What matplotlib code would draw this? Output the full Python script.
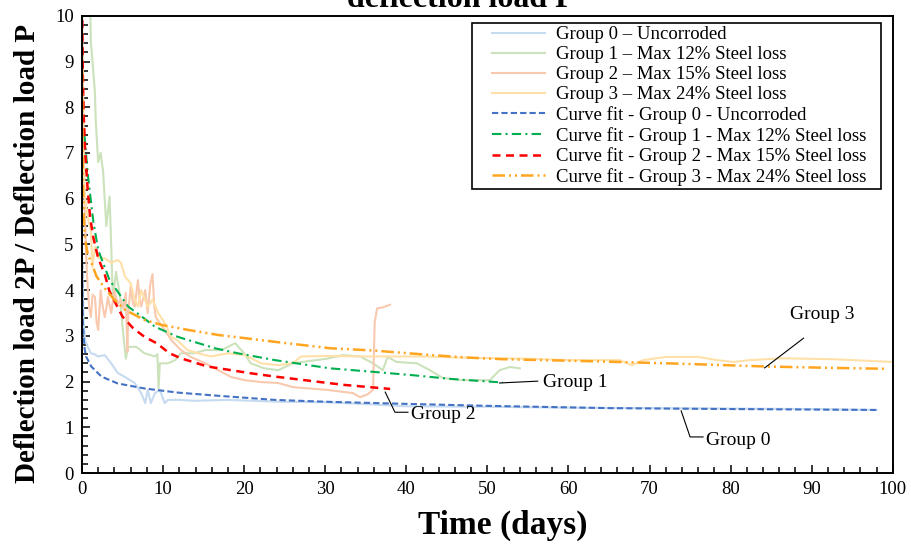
import numpy as np
import matplotlib
matplotlib.use("Agg")
import matplotlib.pyplot as plt
from matplotlib.ticker import MultipleLocator
from matplotlib.patches import Rectangle

plt.rcParams['font.family'] = ['Liberation Serif', 'DejaVu Serif']
plt.rcParams['mathtext.fontset'] = 'stix'

g0_day = [0.0, 0.1, 0.2, 0.4, 0.7, 1.1, 1.5, 2.0, 2.8, 3.6, 4.4, 5.3, 6.5, 7.3, 7.8, 8.1,
          8.5, 9.0, 9.6, 10.2, 10.6, 12.0, 13.9, 18.0, 24.2, 30.0, 36.0, 40.0, 50.0, 60.0,
          70.0, 80.0, 90.0, 98.0]
g0_val = [4.7, 4.0, 3.3, 2.9, 2.76, 2.62, 2.6, 2.55, 2.58, 2.4, 2.19, 2.1, 1.97, 1.75, 1.53, 1.82,
          1.53, 1.75, 1.82, 1.53, 1.6, 1.6, 1.58, 1.6, 1.56, 1.55, 1.5, 1.46, 1.45, 1.43,
          1.42, 1.41, 1.40, 1.38]

g1_day = [0.8, 1.0, 1.1, 1.3, 1.6, 1.7, 2.0, 2.3, 2.6, 3.0, 3.4, 3.6, 3.8, 4.2, 4.7, 5.0,
          5.4, 5.7, 6.7, 7.7, 9.0, 9.3, 9.45, 9.6, 10.6, 11.5, 12.2, 13.9, 15.2, 17.2, 18.9,
          20.0, 20.8, 22.5, 24.2, 26.0, 28.0, 30.2, 32.2, 34.3, 35.9, 37.1, 37.7, 38.8, 41.3,
          42.9, 44.5, 47.0, 50.3, 51.5, 52.8, 54.0]
g1_val = [10.5, 10.3, 9.4, 9.0, 8.3, 7.7, 6.8, 7.0, 6.6, 5.4, 6.05, 5.0, 3.8, 4.4, 3.85, 3.2,
          2.5, 2.76, 2.76, 2.62, 2.55, 2.6, 1.85, 2.4, 2.4, 2.47, 2.62, 2.62, 2.69, 2.69, 2.84,
          2.62, 2.4, 2.29, 2.25, 2.4, 2.45, 2.5, 2.58, 2.55, 2.4, 2.25, 2.54, 2.43, 2.4,
          2.25, 2.08, 2.03, 2.03, 2.25, 2.32, 2.29]

g2_day = [0.0, 0.1, 0.2, 0.3, 0.5, 0.7, 0.9, 1.1, 1.3, 1.6, 1.8, 2.0, 2.3, 2.5, 2.8, 3.0,
          3.2, 3.6, 4.0, 4.4, 4.8, 5.1, 5.4, 5.6, 5.7, 6.0, 6.3, 6.5, 6.9, 7.1, 7.3, 7.8,
          8.1, 8.4, 8.7, 8.9, 9.1, 9.6, 10.2, 11.0, 12.2, 13.4, 15.2, 16.8, 18.4, 20.1,
          22.1, 24.2, 26.0, 28.0, 30.2, 32.0, 33.4, 34.3, 35.2, 35.9, 36.1, 36.4, 37.0, 38.0]
g2_val = [10.2, 9.0, 7.5, 6.0, 4.8, 4.07, 3.6, 3.41, 3.9, 3.85, 3.3, 3.13, 4.0, 3.7, 3.41, 3.6,
          3.85, 3.5, 4.0, 3.7, 3.79, 3.6, 3.94, 2.65, 3.5, 4.07, 3.7, 3.64, 4.22, 3.8, 3.64, 4.0,
          3.5, 4.1, 4.35, 3.7, 3.41, 3.28, 3.13, 2.91, 2.69, 2.54, 2.4, 2.25, 2.1, 2.03,
          1.99, 1.97, 1.88, 1.85, 1.82, 1.78, 1.75, 1.66, 1.72, 1.82, 3.3, 3.6, 3.62, 3.68]

g3_day = [0.0, 0.05, 0.1, 0.2, 0.4, 0.7, 1.1, 1.3, 1.6, 2.0, 2.8, 3.6, 4.4, 4.8, 5.3, 6.0,
          6.5, 6.9, 7.3, 8.1, 8.7, 9.4, 10.2, 11.0, 11.8, 13.0, 14.3, 15.9, 18.0, 20.1, 22.1,
          24.2, 26.0, 27.0, 30.0, 35.0, 42.0, 48.0, 55.0, 60.0, 64.0, 66.3, 67.8, 69.2, 72.0,
          76.0, 78.3, 80.3, 82.4, 86.4, 92.6, 100.0]
g3_val = [8.7, 8.0, 7.2, 6.6, 6.0, 5.6, 5.3, 4.5, 4.95, 4.7, 4.7, 4.6, 4.66, 4.6, 4.3, 4.15,
          3.79, 3.64, 4.0, 3.64, 3.79, 3.5, 3.28, 2.98, 2.9, 2.69, 2.62, 2.55, 2.62, 2.58, 2.4,
          2.36, 2.4, 2.55, 2.56, 2.55, 2.55, 2.52, 2.5, 2.47, 2.47, 2.47, 2.36, 2.47, 2.54,
          2.54, 2.47, 2.43, 2.47, 2.51, 2.49, 2.43]

# ---- curve fits ----
f0_day = [0.02, 0.1, 0.3, 0.5, 1.15, 2.4, 4.4, 7.7, 11.8, 16.8, 23.8, 30.0, 38.4, 50.0, 65.0, 80.0, 98.0]
f0_val = [4.6, 3.3, 2.75, 2.55, 2.33, 2.11, 1.96, 1.85, 1.76, 1.69, 1.6, 1.56, 1.52, 1.47, 1.42, 1.40, 1.38]

f1_day = [0.3, 0.7, 1.0, 1.4, 2.0, 3.4, 5.7, 7.1, 9.0, 11.8, 16.4, 19.2, 23.8, 30.6, 35.5, 40.8, 45.4, 51.9]
f1_val = [7.4, 6.56, 6.1, 5.5, 4.88, 4.22, 3.64, 3.46, 3.2, 2.98, 2.73, 2.62, 2.47, 2.29, 2.22, 2.14, 2.06, 1.98]

f2_day = [0.02, 0.1, 0.2, 0.4, 0.7, 1.0, 1.4, 2.0, 2.8, 3.4, 5.0, 6.3, 7.7, 9.2, 10.8, 12.2,
          15.5, 20.9, 23.8, 28.0, 32.2, 38.0]
f2_val = [10.2, 8.7, 7.9, 7.0, 6.2, 5.6, 5.15, 4.7, 4.35, 3.97, 3.42, 3.17, 2.98, 2.84, 2.62, 2.51,
          2.33, 2.18, 2.11, 2.02, 1.93, 1.84]

f3_day = [0.02, 0.05, 0.1, 0.2, 0.4, 0.7, 1.15, 1.8, 2.8, 4.0, 5.3, 7.7, 9.8, 13.1, 16.8, 20.1,
          23.8, 30.6, 35.9, 41.7, 47.0, 51.9, 59.3, 64.0, 74.1, 84.4, 92.6, 99.3]
f3_val = [8.8, 7.5, 6.5, 5.6, 5.1, 4.8, 4.6, 4.3, 4.04, 3.79, 3.57, 3.35, 3.24, 3.13, 3.02, 2.95,
          2.87, 2.73, 2.68, 2.6, 2.53, 2.49, 2.46, 2.44, 2.39, 2.33, 2.3, 2.28]

raw_labels = ['Group 0 \u2013 Uncorroded', 'Group 1 \u2013 Max 12% Steel loss',
              'Group 2 \u2013 Max 15% Steel loss', 'Group 3 \u2013 Max 24% Steel loss']
fit_labels = ['Curve fit - Group 0 - Uncorroded', 'Curve fit - Group 1 - Max 12% Steel loss',
              'Curve fit - Group 2 - Max 15% Steel loss', 'Curve fit - Group 3 - Max 24% Steel loss']

raw_colors = ['#c6daf0', '#cbe2bb', '#f8c9ae', '#ffe0a8']
fit_colors = ['#4472c4', '#00b050', '#ff0000', '#ffa51f']
fit_styles = [(0, (3, 1.5)), (0, (4.5, 2, 1, 2)), (0, (3.2, 2.2)), (0, (5, 1.6, 0.8, 1.6, 0.8, 1.6))]
fit_widths = [1.5, 1.5, 1.8, 1.8]

fig = plt.figure(figsize=(9.11, 5.45), dpi=100)
ax = fig.add_axes([0.090, 0.132, 0.890, 0.839])

raws = [(g0_day, g0_val), (g1_day, g1_val), (g2_day, g2_val), (g3_day, g3_val)]
fits = [(f0_day, f0_val), (f1_day, f1_val), (f2_day, f2_val), (f3_day, f3_val)]

for (d, v), c, lab in zip(raws, raw_colors, raw_labels):
    ax.plot(d, v, color=c, lw=1.5, label=lab)
for (d, v), c, ls, lw, lab in zip(fits, fit_colors, fit_styles, fit_widths, fit_labels):
    ax.plot(d, v, color=c, lw=lw, linestyle=ls, label=lab)

# group leaders + labels
ax.plot([37.4, 38.6, 40.2], [1.77, 1.33, 1.33], color='k', lw=0.8)
ax.text(40.6, 1.27, 'Group 2', fontsize=14, va='center', ha='left')
ax.plot([73.9, 75.0, 76.6], [1.36, 0.79, 0.79], color='k', lw=0.8)
ax.text(77.0, 0.72, 'Group 0', fontsize=14, va='center', ha='left')
ax.plot([51.5, 56.2], [1.97, 2.01], color='k', lw=0.8)
ax.text(56.8, 1.98, 'Group 1', fontsize=14, va='center', ha='left')
ax.plot([84.2, 89.0], [2.30, 2.95], color='k', lw=0.8)
ax.text(91.3, 3.46, 'Group 3', fontsize=14, va='center', ha='center')

ax.set_xlim(0, 100)
ax.set_ylim(0, 10)
ax.xaxis.set_major_locator(MultipleLocator(10))
ax.xaxis.set_minor_locator(MultipleLocator(2))
ax.yaxis.set_major_locator(MultipleLocator(1))
ax.yaxis.set_minor_locator(MultipleLocator(0.2))
ax.tick_params(which='both', direction='in', top=False, right=False, labelsize=13.5, width=1.1)
ax.tick_params(which='major', length=6, pad=6)
ax.tick_params(which='minor', length=4)
for sp in ax.spines.values():
    sp.set_linewidth(1.4)

ax.set_xlabel('Time (days)', fontsize=24, fontweight='bold')
ax.xaxis.set_label_coords(0.519, -0.080)
ax.set_ylabel('Deflection load 2P / Deflection load P', fontsize=21, fontweight='bold')
ax.yaxis.set_label_coords(-0.050, 0.481)

fig.text(0.506, 0.987, 'deflection load P', fontsize=23, fontweight='bold', ha='center', va='baseline')

leg = ax.legend(loc='upper right', bbox_to_anchor=(0.967, 0.977), borderaxespad=0, fontsize=13.5,
                frameon=False, handlelength=2.85, labelspacing=0.15,
                borderpad=0.0, handletextpad=0.55)
leg.set_zorder(6)

# legend box: wider side padding than matplotlib's own frame allows
fig.canvas.draw()
bb = leg.get_window_extent().transformed(ax.transAxes.inverted())
pad_l, pad_r, pad_v = 20 / 811, 15 / 811, 3 / 457
ax.add_patch(Rectangle((bb.x0 - pad_l, bb.y0 - pad_v), bb.width + pad_l + pad_r, bb.height + 2 * pad_v,
                       transform=ax.transAxes, facecolor='white', edgecolor='black', lw=1.2, zorder=5))

fig.savefig('out.png', dpi=100)
